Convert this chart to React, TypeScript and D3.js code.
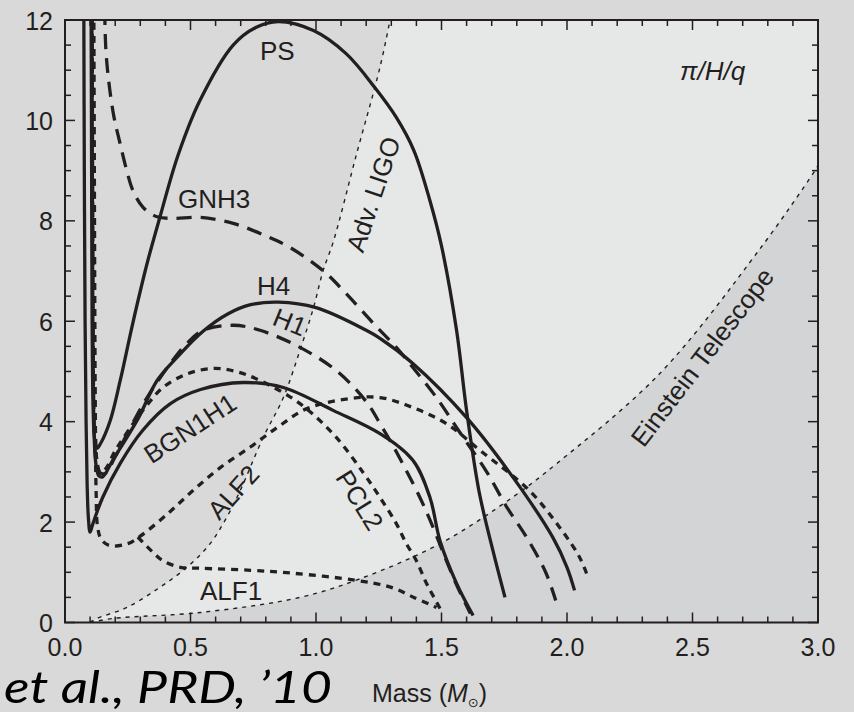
import { useEffect, useRef } from "react";
import * as d3 from "d3";

type Pt = [number, number];

// axis tick values
const xTicks = [0, 0.5, 1, 1.5, 2, 2.5, 3];
const yTicks = [0, 2, 4, 6, 8, 10, 12];

// detector sensitivity boundaries (mass, value)
const advLigo: Pt[] = [[0.1, 0], [0.127, 0.08], [0.247, 0.3], [0.378, 0.7], [0.486, 1.1], [0.578, 1.57], [0.645, 2.1], [0.7, 2.65], [0.79, 3.69], [0.87, 4.48], [0.936, 5.42], [0.99, 6.27], [1.028, 7.0], [1.07, 7.6], [1.16, 9.3], [1.255, 11.06], [1.295, 12]];
const einsteinTel: Pt[] = [[0.1, 0], [0.19, 0.08], [0.54, 0.2], [0.936, 0.5], [1.175, 0.87], [1.494, 1.57], [1.785, 2.5], [1.96, 3.17], [2.37, 4.96], [2.77, 7.45], [2.98, 8.94], [3.0, 9.1]];

// equation-of-state curves (mass, value)
const bgn1h1: Pt[] = [[0.075, 12.2], [0.077, 9], [0.08, 6], [0.084, 4], [0.088, 2.8], [0.093, 2.1], [0.1, 1.8], [0.11, 1.95], [0.15, 2.49], [0.22, 3.17], [0.31, 3.83], [0.42, 4.36], [0.54, 4.64], [0.71, 4.78], [0.87, 4.68], [1.07, 4.22], [1.255, 3.76], [1.386, 3.23], [1.454, 2.49], [1.494, 1.63], [1.56, 0.78], [1.626, 0.14]];
const ps: Pt[] = [[0.104, 12.2], [0.106, 9], [0.108, 6], [0.112, 4.3], [0.118, 3.65], [0.128, 3.47], [0.14, 3.55], [0.18, 4.02], [0.22, 4.82], [0.27, 5.96], [0.327, 7.15], [0.378, 8.07], [0.45, 9.3], [0.538, 10.4], [0.67, 11.5], [0.76, 11.85], [0.85, 11.97], [0.99, 11.79], [1.12, 11.33], [1.235, 10.65], [1.32, 10.06], [1.39, 9.4], [1.454, 8.4], [1.5, 7.5], [1.56, 5.82], [1.6, 4.22], [1.65, 2.6], [1.705, 1.43], [1.753, 0.5]];
const h4: Pt[] = [[0.107, 12.2], [0.109, 9], [0.111, 6], [0.115, 4], [0.122, 3.2], [0.135, 2.92], [0.15, 2.9], [0.19, 3.23], [0.29, 4.05], [0.367, 4.82], [0.45, 5.3], [0.55, 5.8], [0.65, 6.15], [0.74, 6.33], [0.85, 6.38], [1.0, 6.27], [1.2, 5.82], [1.255, 5.66], [1.386, 5.16], [1.6, 4.08], [1.785, 2.89], [1.944, 1.69], [2.0, 1.1], [2.03, 0.64]];
const h1: Pt[] = [[0.108, 12.2], [0.11, 9], [0.112, 6], [0.116, 4], [0.125, 3.2], [0.14, 2.98], [0.16, 2.97], [0.2, 3.3], [0.26, 3.88], [0.327, 4.48], [0.42, 5.16], [0.486, 5.56], [0.55, 5.82], [0.67, 5.92], [0.777, 5.82], [0.936, 5.48], [1.08, 5.02], [1.2, 4.4], [1.26, 3.92], [1.32, 3.4], [1.414, 2.49], [1.466, 1.9], [1.51, 1.35], [1.56, 0.75], [1.615, 0.18]];
const gnh3: Pt[] = [[0.158, 12.2], [0.163, 11.4], [0.175, 10.75], [0.195, 10.07], [0.219, 9.55], [0.246, 9.0], [0.271, 8.6], [0.311, 8.27], [0.367, 8.08], [0.43, 8.05], [0.54, 8.07], [0.67, 7.95], [0.8, 7.7], [0.896, 7.47], [1.03, 7.0], [1.12, 6.55], [1.23, 5.95], [1.32, 5.48], [1.386, 5.08], [1.48, 4.48], [1.574, 3.78], [1.68, 3.0], [1.76, 2.3], [1.84, 1.69], [1.915, 1.0], [1.955, 0.44]];
const pcl2: Pt[] = [[0.112, 12.2], [0.114, 9], [0.116, 6], [0.12, 4], [0.128, 3.2], [0.14, 3.0], [0.16, 3.05], [0.2, 3.42], [0.28, 4.02], [0.33, 4.35], [0.39, 4.68], [0.486, 4.95], [0.59, 5.06], [0.68, 5.0], [0.777, 4.82], [0.936, 4.36], [1.08, 3.69], [1.19, 2.97], [1.255, 2.49], [1.32, 1.97], [1.36, 1.57], [1.4, 1.23], [1.44, 0.78], [1.47, 0.5], [1.494, 0.28]];
const alf2: Pt[] = [[0.115, 12.2], [0.117, 9], [0.119, 6], [0.121, 4], [0.124, 2.6], [0.13, 1.9], [0.145, 1.65], [0.18, 1.53], [0.25, 1.57], [0.3, 1.72], [0.41, 2.17], [0.51, 2.63], [0.62, 3.09], [0.737, 3.49], [0.85, 3.9], [0.964, 4.26], [1.135, 4.46], [1.255, 4.48], [1.386, 4.28], [1.52, 3.96], [1.653, 3.43], [1.85, 2.63], [1.98, 1.83], [2.05, 1.3], [2.08, 0.95]];
const alf1: Pt[] = [[0.29, 1.7], [0.31, 1.6], [0.35, 1.4], [0.39, 1.23], [0.46, 1.1], [0.54, 1.08], [0.74, 1.04], [0.91, 0.98], [1.16, 0.84], [1.3, 0.7], [1.39, 0.5], [1.48, 0.3]];

const ink = "#231f20";

export default function App() {
  const ref = useRef<SVGSVGElement>(null);

  useEffect(() => {
    const svg = d3.select(ref.current);
    svg.selectAll("*").remove();
    const W = 854, H = 712;

    const x = d3.scaleLinear().domain([0, 3]).range([65, 818]);
    const y = d3.scaleLinear().domain([0, 12]).range([622.5, 20]);

    svg.append("rect").attr("width", W).attr("height", H).attr("fill", "#d9d9d9");

    svg.append("defs").append("clipPath").attr("id", "plotClip")
      .append("rect").attr("x", x(0)).attr("y", y(12))
      .attr("width", x(3) - x(0)).attr("height", y(0) - y(12));

    const line = d3.line<Pt>().x(d => x(d[0])).y(d => y(d[1])).curve(d3.curveCatmullRom.alpha(0.5));

    const plot = svg.append("g").attr("clip-path", "url(#plotClip)");

    // shaded regions
    plot.append("path")
      .attr("d", line(advLigo) + `L${x(3)},${y(12)}L${x(3)},${y(0)}Z`)
      .attr("fill", "#e6e7e7");
    plot.append("path")
      .attr("d", line(einsteinTel) + `L${x(3)},${y(0)}Z`)
      .attr("fill", "#d3d4d5");

    // boundaries
    ;[advLigo, einsteinTel].forEach(pts => {
      plot.append("path").attr("d", line(pts)).attr("fill", "none")
        .attr("stroke", ink).attr("stroke-width", 1.4).attr("stroke-dasharray", "4,5");
    });

    // EOS curves
    const curves: { pts: Pt[]; dash: string | null }[] = [
      { pts: alf2, dash: "7,6" },
      { pts: alf1, dash: "7,6" },
      { pts: pcl2, dash: "7,6" },
      { pts: gnh3, dash: "15,9" },
      { pts: h1, dash: "15,9" },
      { pts: bgn1h1, dash: null },
      { pts: h4, dash: null },
      { pts: ps, dash: null },
    ];
    curves.forEach(c => {
      const p = plot.append("path").attr("d", line(c.pts)).attr("fill", "none")
        .attr("stroke", ink).attr("stroke-width", 3.3);
      if (c.dash) p.attr("stroke-dasharray", c.dash);
    });

    // frame and ticks
    const ax = svg.append("g").attr("stroke", ink);
    ax.append("rect").attr("x", x(0)).attr("y", y(12))
      .attr("width", x(3) - x(0)).attr("height", y(0) - y(12))
      .attr("fill", "none").attr("stroke-width", 2);

    d3.range(0, 3.0001, 0.1).forEach(v => {
      const major = Math.abs(v * 2 - Math.round(v * 2)) < 1e-6;
      const len = major ? 10 : 6;
      ax.append("line").attr("x1", x(v)).attr("x2", x(v)).attr("y1", y(0)).attr("y2", y(0) - len).attr("stroke-width", 1.5);
      ax.append("line").attr("x1", x(v)).attr("x2", x(v)).attr("y1", y(12)).attr("y2", y(12) + len).attr("stroke-width", 1.5);
    });
    d3.range(0, 12.0001, 0.5).forEach(v => {
      const major = Math.abs(v / 2 - Math.round(v / 2)) < 1e-6;
      const len = major ? 10 : 6;
      ax.append("line").attr("y1", y(v)).attr("y2", y(v)).attr("x1", x(0)).attr("x2", x(0) + len).attr("stroke-width", 1.5);
      ax.append("line").attr("y1", y(v)).attr("y2", y(v)).attr("x1", x(3)).attr("x2", x(3) - len).attr("stroke-width", 1.5);
    });

    const font = "'Liberation Sans', Arial, Helvetica, sans-serif";

    svg.append("g").selectAll("text").data(yTicks).join("text")
      .attr("x", 53).attr("y", d => y(d)).attr("dy", "0.38em")
      .attr("text-anchor", "end").attr("font-family", font).attr("font-size", 25).attr("fill", ink)
      .text(d => d);

    svg.append("g").selectAll("text").data(xTicks).join("text")
      .attr("x", d => x(d)).attr("y", 656)
      .attr("text-anchor", "middle").attr("font-family", font).attr("font-size", 25).attr("fill", ink)
      .text(d => d3.format(".1f")(d));

    // curve labels (data coordinates)
    const labels: { t: string; m: number; v: number }[] = [
      { t: "PS", m: 0.777, v: 11.2 },
      { t: "GNH3", m: 0.45, v: 8.25 },
      { t: "H4", m: 0.765, v: 6.52 },
      { t: "ALF1", m: 0.538, v: 0.45 },
    ];
    labels.forEach(l => {
      svg.append("text").attr("x", x(l.m)).attr("y", y(l.v))
        .attr("font-family", font).attr("font-size", 26).attr("fill", ink).text(l.t);
    });
    const rotLabels: { t: string; m: number; v: number; r: number }[] = [
      { t: "H1", m: 0.896, v: 5.99, r: 22 },
      { t: "BGN1H1", m: 0.498, v: 3.87, r: -33 },
      { t: "ALF2", m: 0.67, v: 2.6, r: -48 },
      { t: "PCL2", m: 1.175, v: 2.44, r: 58 },
      { t: "Adv. LIGO", m: 1.227, v: 8.53, r: -71.5 },
      { t: "Einstein Telescope", m: 2.538, v: 5.29, r: -52.5 },
    ];
    rotLabels.forEach(l => {
      svg.append("text")
        .attr("transform", `translate(${x(l.m)},${y(l.v)}) rotate(${l.r})`)
        .attr("dy", "0.36em").attr("text-anchor", "middle").attr("font-family", font)
        .attr("font-size", 26).attr("fill", ink).text(l.t);
    });

    svg.append("text").attr("x", 680).attr("y", 80)
      .attr("font-family", font).attr("font-style", "italic").attr("font-size", 26).attr("fill", ink)
      .text("π/H/q");

    // axis title
    const title = svg.append("text").attr("x", 372).attr("y", 702)
      .attr("font-family", font).attr("font-size", 25).attr("fill", ink);
    title.append("tspan").text("Mass (");
    title.append("tspan").attr("font-style", "italic").text("M");
    title.append("tspan").attr("dy", 5).attr("font-size", 13).attr("font-family", "'DejaVu Sans', sans-serif").text("⊙");
    title.append("tspan").attr("dy", -5).text(")");

    // citation overlay
    svg.append("text").attr("x", 4).attr("y", 703)
      .attr("font-family", "Lato, 'Open Sans', sans-serif").attr("font-style", "italic")
      .attr("font-size", 44).attr("fill", "#000")
      .attr("textLength", 328).attr("lengthAdjust", "spacingAndGlyphs")
      .text("et al., PRD, ’10");
  }, []);

  return (
    <svg ref={ref} width={854} height={712}
      style={{ position: "absolute", left: 0, top: 0, display: "block" }} />
  );
}
